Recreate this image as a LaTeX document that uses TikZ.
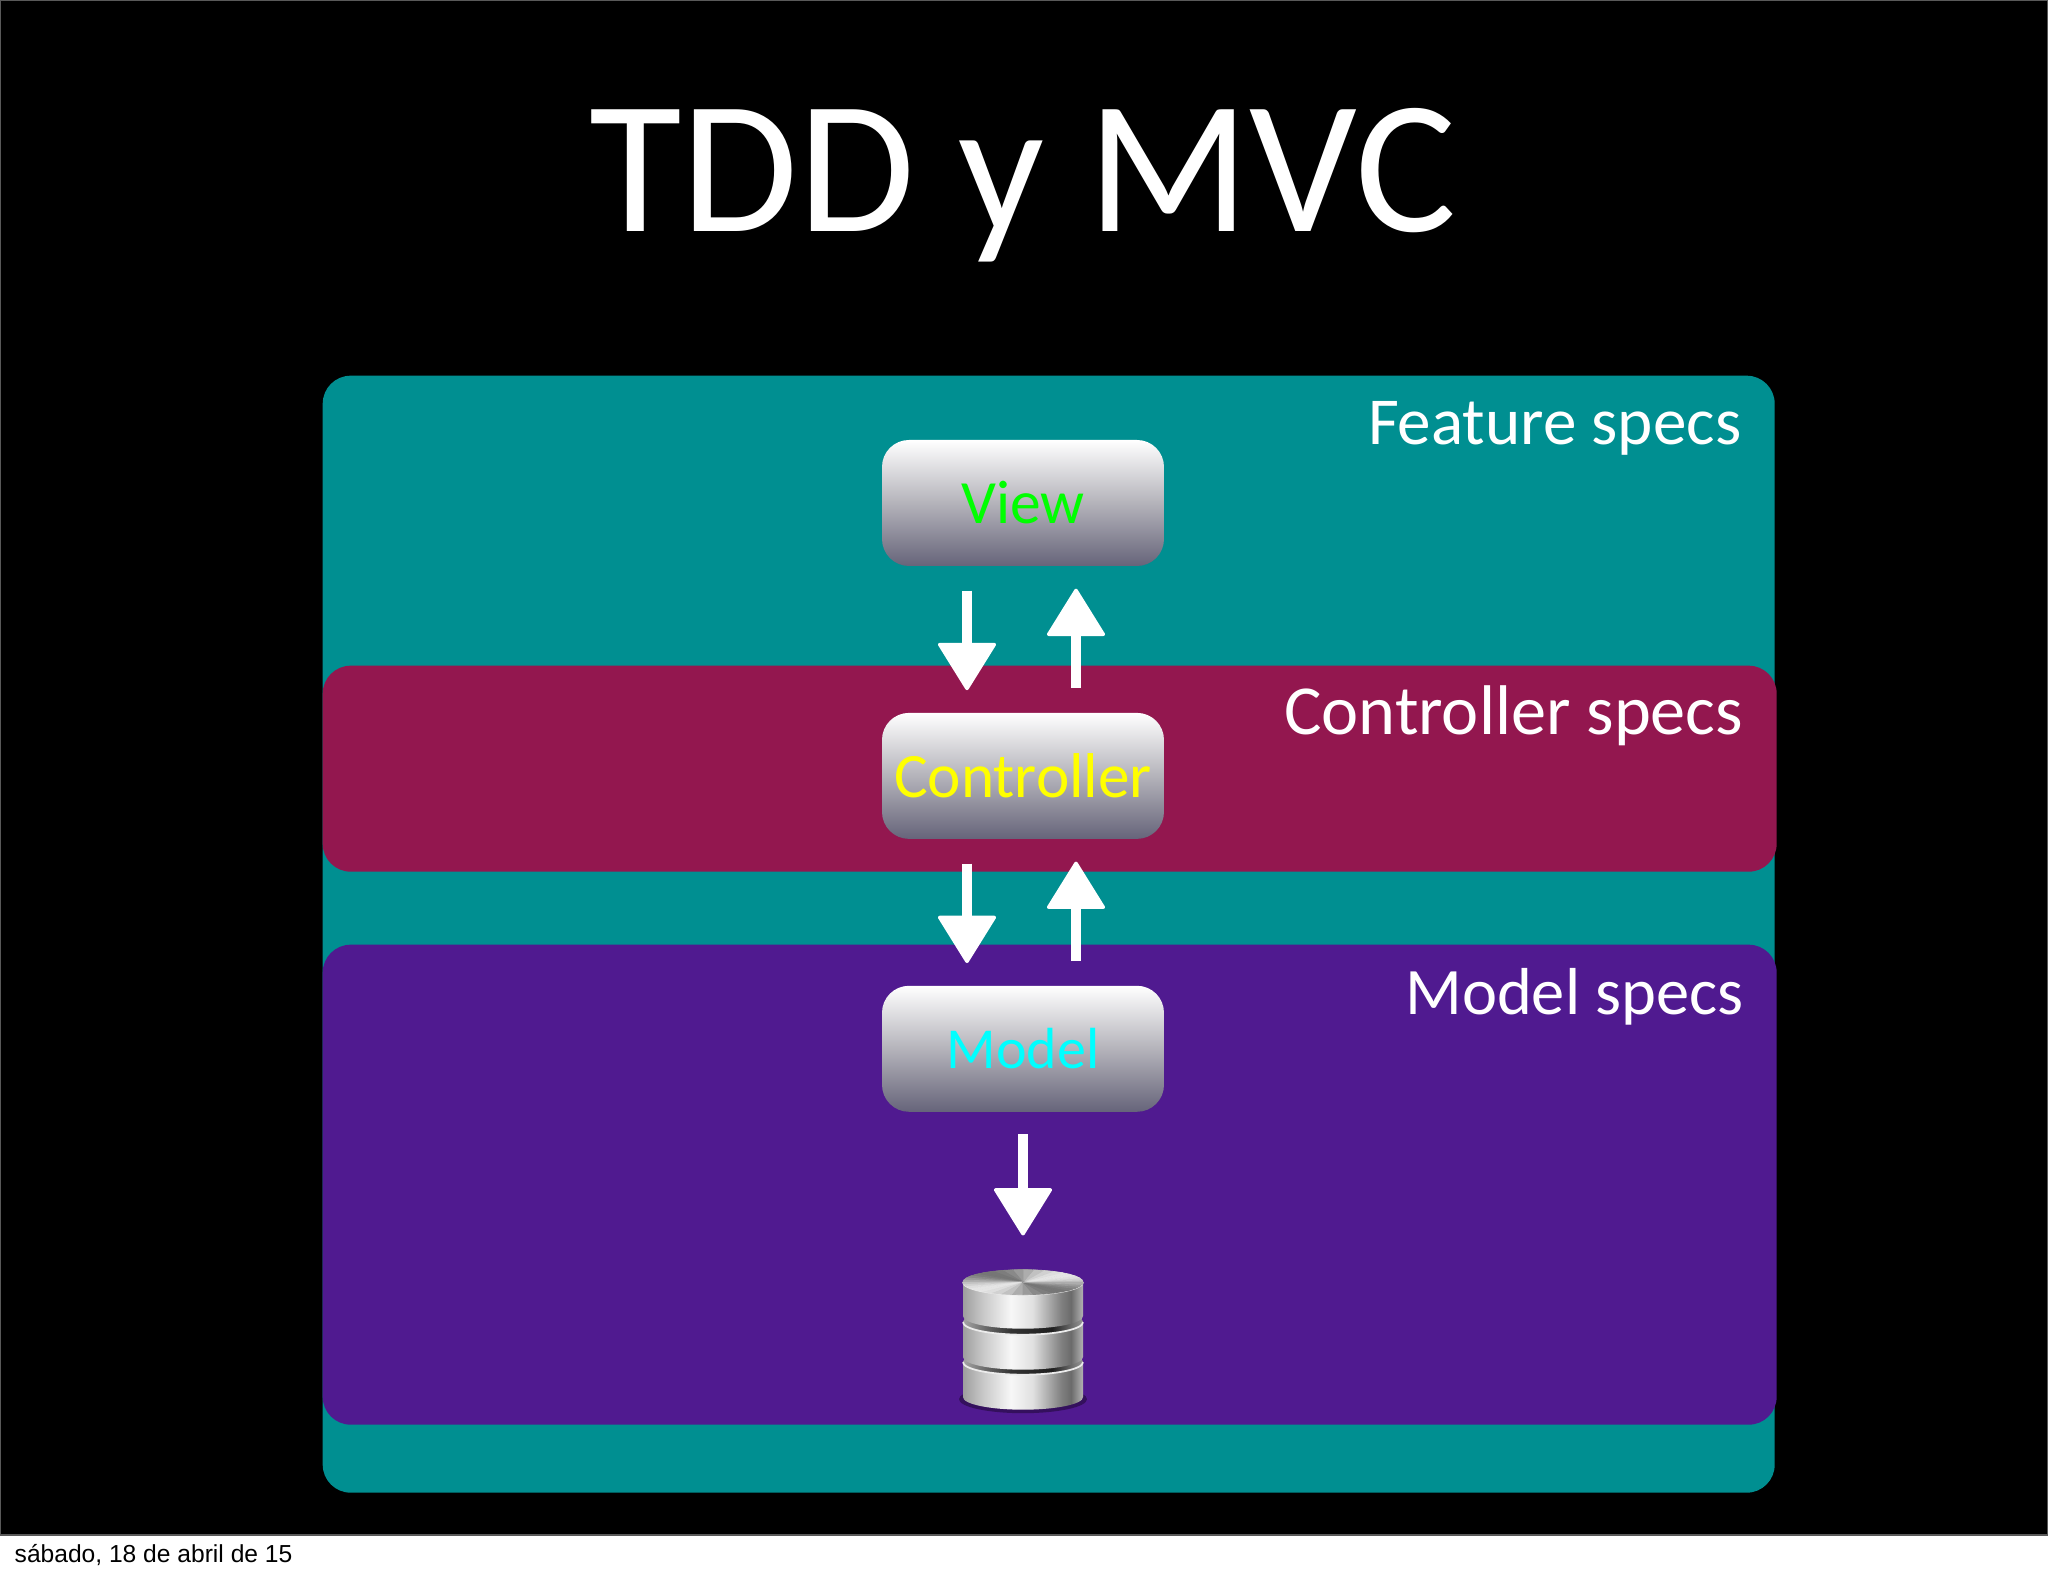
\documentclass[tikz,border=0pt]{standalone}
\usepackage{fontspec}
\setmainfont{Carlito}
\newfontfamily\footerfont{Liberation Sans}
\usetikzlibrary{arrows.meta, positioning}
\definecolor{tealpanel}{HTML}{008F91}
\definecolor{crimsonpanel}{HTML}{93174F}
\definecolor{purplepanel}{HTML}{501A90}
\definecolor{boxmiddle}{HTML}{B4B3BA}
\definecolor{boxbottom}{HTML}{66647A}
\definecolor{viewgreen}{HTML}{00FF00}
\definecolor{controlleryellow}{HTML}{FFFF00}
\definecolor{modelcyan}{HTML}{00FFFF}
\pgfdeclarehorizontalshading{metal}{100bp}{color(0bp)=(black!38); color(25bp)=(black!38); color(33bp)=(black!22); color(45bp)=(black!3); color(54bp)=(black!12); color(66bp)=(black!50); color(70bp)=(black!58); color(75bp)=(black!30); color(100bp)=(black!30)}
\pgfdeclarehorizontalshading{metalgap}{100bp}{color(0bp)=(black!35); color(25bp)=(black!35); color(35bp)=(black!60); color(45bp)=(black!80); color(62bp)=(black!88); color(75bp)=(black!40); color(100bp)=(black!40)}
\tikzset{panel/.style={anchor=north west, minimum width=14.52cm, rounded corners=2.8mm, inner sep=0pt}}
\tikzset{speclabel/.style={anchor=base east, inner sep=0pt, text=white}}
\tikzset{layerbox/.style={minimum width=2.82cm, minimum height=1.26cm, inner sep=0pt, rounded corners=2.7mm, top color=white, bottom color=boxbottom, middle color=boxmiddle}}
\tikzset{flow/.style={draw=white, line width=2.8pt, -{Triangle[length=4.9mm,width=6mm,round,line width=1pt]}}}
\begin{document}
\begin{tikzpicture}
\useasboundingbox (0,0) rectangle (20.48,15.76);
\fill[white] (0,0) rectangle (20.48,15.76);
\fill[black,draw=black!65,line width=0.4pt] (0,0.41) rectangle (20.48,15.76);

\node[anchor=base, text=white, font=\fontsize{54}{56}\selectfont] (title) at (10.23,13.44) {TDD y MVC};
\node[anchor=base west, inner sep=0pt, font=\footerfont\fontsize{7}{8}\selectfont] (date) at (0.14,0.13) {sábado, 18 de abril de 15};

\node[panel, fill=tealpanel, minimum height=11.17cm] (feature) at (3.22,12.01) {};
\node[panel, fill=crimsonpanel, minimum height=2.06cm, minimum width=14.54cm] (controllerpanel) at (3.22,9.11) {};
\node[panel, fill=purplepanel, minimum height=4.80cm, minimum width=14.54cm] (modelpanel) at (3.22,6.32) {};

\node[speclabel, font=\fontsize{19.1}{22}\selectfont] (featurelabel) at (17.42,11.31) {Feature specs};
\node[speclabel, font=\fontsize{20}{22}\selectfont] (controllerlabel) at (17.44,8.41) {Controller specs};
\node[speclabel, font=\fontsize{18.9}{22}\selectfont] (modellabel) at (17.44,5.61) {Model specs};

\node[layerbox, text=viewgreen, font=\fontsize{17.5}{20}\selectfont] (view) at (10.23,10.73) {View};
\node[layerbox, below=1.455cm of view, text=controlleryellow, font=\fontsize{18}{20}\selectfont] (controller) {Controller};
\node[layerbox, below=1.455cm of controller, text=modelcyan, font=\fontsize{16.5}{20}\selectfont] (model) {Model};
\node[below=1.56cm of model, minimum width=1.2cm, minimum height=1.4cm, inner sep=0pt] (db) {};

\draw[flow, shorten <=2.4mm, shorten >=2.2mm] ([xshift=-5.6mm]view.south) -- ([xshift=-5.6mm]controller.north);
\draw[flow, shorten <=2.4mm, shorten >=2.2mm] ([xshift=5.3mm]controller.north) -- ([xshift=5.3mm]view.south);
\draw[flow, shorten <=2.4mm, shorten >=2.2mm] ([xshift=-5.6mm]controller.south) -- ([xshift=-5.6mm]model.north);
\draw[flow, shorten <=2.4mm, shorten >=2.2mm] ([xshift=5.3mm]model.north) -- ([xshift=5.3mm]controller.south);
\draw[flow, shorten <=2.2mm, shorten >=3.3mm] (model.south) -- (db.north);

\begin{scope}[shift=(db.center)]
\fill[black,opacity=.35] (0,-.6) ellipse (.64 and .14);
\foreach \captop/\capbot in {-.23/-.58, .17/-.18, .57/.23} {
  \shade[shading=metal] (-.6,\captop) -- (-.6,\capbot) arc (180:360:.6 and .125) -- (.6,\captop) arc (0:180:.6 and .125) -- cycle;
  \shade[shading=metalgap] (0,\captop) ellipse (.6 and .125);
  \draw[black!8,line width=.5pt] (-.6,\captop) arc (180:360:.6 and .125);
}
\foreach \a in {0,10,...,350} {
  \pgfmathsetmacro\tone{68+22*cos(2*\a-70)}
  \fill[white!\tone!black,draw=white!\tone!black,line width=.2pt] (0,.57) -- ++(\a:.6 and .125) arc (\a:\a+10:.6 and .125) -- cycle;
}
\end{scope}
\end{tikzpicture}
\end{document}
